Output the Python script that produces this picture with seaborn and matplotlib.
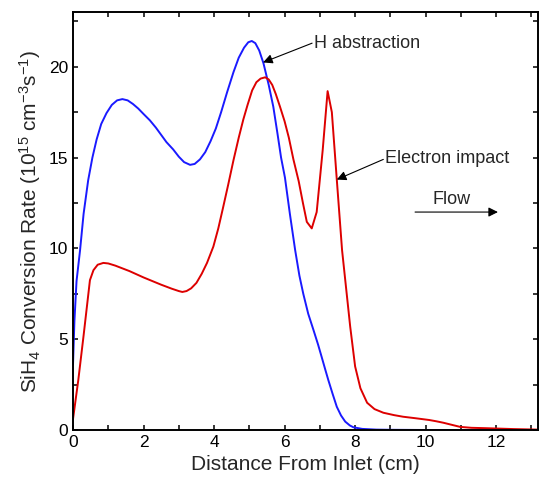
import matplotlib
matplotlib.use("Agg")
from matplotlib import pyplot as plt
from matplotlib.ticker import MultipleLocator
import seaborn as sns

# H abstraction curve (blue)
h_x = [0.0, 0.04, 0.1, 0.2, 0.3, 0.43, 0.55, 0.67, 0.8, 0.95, 1.1, 1.25, 1.4, 1.55, 1.7, 1.85,
       2.0, 2.18, 2.35, 2.5, 2.65, 2.84, 3.0, 3.15, 3.32, 3.45, 3.6, 3.75, 3.9, 4.05, 4.2, 4.37,
       4.55, 4.7, 4.85, 4.97, 5.07, 5.17, 5.28, 5.4, 5.55, 5.68, 5.8, 5.9, 6.01, 6.15, 6.3, 6.42,
       6.53, 6.67, 6.82, 6.95, 7.05, 7.15, 7.24, 7.36, 7.48, 7.6, 7.72, 7.85, 7.95, 8.2, 8.6,
       9.0, 10.0, 11.0, 12.0, 13.2]
h_y = [3.6, 6.0, 8.2, 9.9, 11.9, 13.75, 15.0, 16.0, 16.85, 17.45, 17.9, 18.15, 18.22, 18.15, 17.95, 17.7,
       17.4, 17.05, 16.65, 16.25, 15.85, 15.45, 15.05, 14.75, 14.6, 14.65, 14.9, 15.3, 15.9, 16.6, 17.5, 18.6,
       19.7, 20.5, 21.05, 21.35, 21.42, 21.3, 20.9, 20.2, 19.0, 17.8, 16.3, 15.0, 13.9, 11.9, 9.9, 8.5,
       7.5, 6.4, 5.5, 4.7, 4.03, 3.35, 2.75, 2.0, 1.28, 0.8, 0.46, 0.25, 0.15, 0.06, 0.02,
       0.01, 0.0, 0.0, 0.0, 0.0]

# Electron impact curve (red)
e_x = [0.0, 0.15, 0.3, 0.48, 0.58, 0.7, 0.86, 1.0, 1.2, 1.6, 2.0, 2.5, 2.8, 3.0, 3.1, 3.22,
       3.35, 3.5, 3.65, 3.8, 3.98, 4.12, 4.25, 4.4, 4.55, 4.7, 4.83, 4.95, 5.08, 5.2, 5.32, 5.45,
       5.55, 5.65, 5.75, 5.87, 6.0, 6.12, 6.25, 6.4, 6.52, 6.63, 6.77, 6.91, 7.08, 7.22, 7.34,
       7.48, 7.63, 7.86, 8.0, 8.15, 8.34, 8.55, 8.8, 9.1, 9.36, 9.7, 10.1, 10.3, 10.5, 10.75,
       10.98, 11.3, 11.7, 12.5, 13.2]
e_y = [0.6, 2.75, 5.2, 8.25, 8.8, 9.1, 9.2, 9.17, 9.05, 8.75, 8.4, 8.0, 7.78, 7.65, 7.6, 7.65,
       7.8, 8.1, 8.6, 9.2, 10.1, 11.1, 12.2, 13.5, 14.85, 16.1, 17.1, 17.9, 18.7, 19.15, 19.35, 19.42,
       19.3, 19.0, 18.5, 17.8, 17.0, 16.1, 14.9, 13.7, 12.5, 11.46, 11.1, 12.0, 15.4, 18.66, 17.5,
       13.8, 9.9, 5.7, 3.5, 2.3, 1.5, 1.15, 0.95, 0.82, 0.73, 0.65, 0.55, 0.48, 0.4, 0.28,
       0.17, 0.12, 0.1, 0.05, 0.02]

sns.set_style("ticks")
plt.rcParams["font.family"] = ["Liberation Sans", "DejaVu Sans"]
plt.rcParams["mathtext.default"] = "regular"

fig = plt.figure(figsize=(5.4, 4.84), dpi=100)
ax = fig.add_axes([0.1352, 0.1116, 0.862, 0.863])

sns.lineplot(x=h_x, y=h_y, sort=False, color="#1a1aff", lw=1.4, ax=ax)
sns.lineplot(x=e_x, y=e_y, sort=False, color="#dd0000", lw=1.4, ax=ax)

ax.set_xlim(0, 13.2)
ax.set_ylim(0, 23)
ax.xaxis.set_major_locator(MultipleLocator(2))
ax.xaxis.set_minor_locator(MultipleLocator(1))
ax.yaxis.set_major_locator(MultipleLocator(5))
ax.yaxis.set_minor_locator(MultipleLocator(2.5))
ax.tick_params(which="both", direction="in", top=True, right=True,
               length=3.5, width=1.1, labelsize=12.5, colors="black")
for s in ax.spines.values():
    s.set_linewidth(1.4)
    s.set_color("black")

ax.set_xlabel("Distance From Inlet (cm)", fontsize=15)
ax.set_ylabel("SiH$_4$ Conversion Rate (10$^{15}$ cm$^{-3}$s$^{-1}$)", fontsize=15)

arrow = dict(arrowstyle="-|>", color="black", lw=0.8, mutation_scale=14, shrinkA=0, shrinkB=0)
ax.annotate("", xy=(5.39, 20.24), xytext=(6.78, 21.3), arrowprops=arrow)
ax.text(6.83, 21.3, "H abstraction", fontsize=13, va="center", ha="left")
ax.annotate("", xy=(7.48, 13.79), xytext=(8.8, 14.9), arrowprops=arrow)
ax.text(8.85, 14.95, "Electron impact", fontsize=13, va="center", ha="left")
ax.annotate("", xy=(12.05, 12.0), xytext=(9.7, 12.0), arrowprops=arrow)
ax.text(10.74, 12.7, "Flow", fontsize=13, va="center", ha="center")

plt.savefig("out.png", dpi=100)
